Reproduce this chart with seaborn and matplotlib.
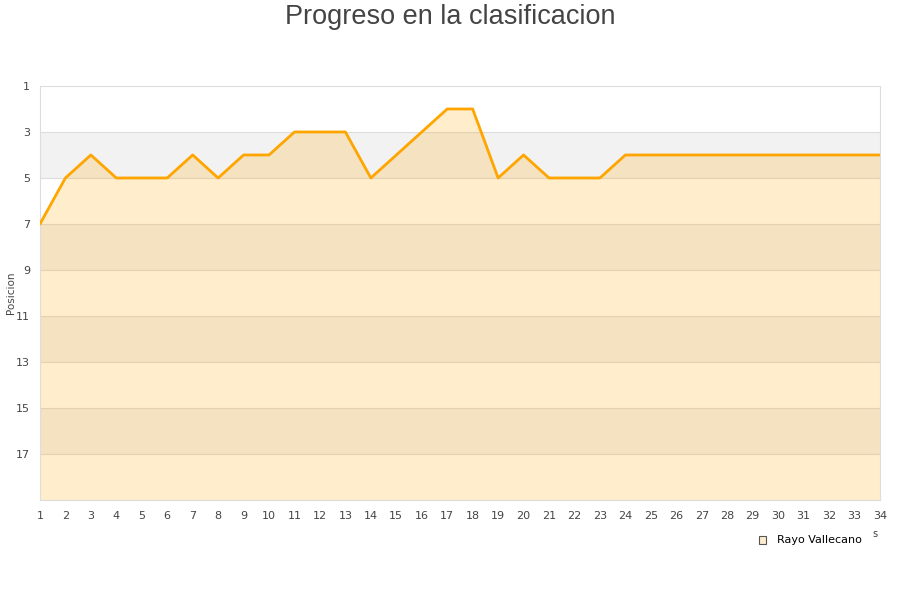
import pandas as pd
import matplotlib.pyplot as plt
import seaborn as sns

# Posicion del Rayo Vallecano por jornada
jornadas = list(range(1, 35))
posicion = [7, 5, 4, 5, 5, 5, 4, 5, 4, 4, 3, 3, 3, 5, 4, 3, 2, 2, 5, 4,
            5, 5, 5, 4, 4, 4, 4, 4, 4, 4, 4, 4, 4, 4]
equipo = 'Rayo Vallecano'
y_ticks = [1, 3, 5, 7, 9, 11, 13, 15, 17]

df = pd.DataFrame({'jornada': jornadas, 'posicion': posicion})

sns.set_style('white')
fig = plt.figure(figsize=(9, 6), dpi=100)
ax = fig.add_axes([0.0444, 0.1667, 0.9333, 0.69])

# bandas alternas grises
for lo in [3, 7, 11, 15]:
    ax.axhspan(lo, lo + 2, color='#f2f2f2', zorder=0, lw=0)
for t in y_ticks[1:]:
    ax.axhline(t, color='#dddddd', lw=0.8, zorder=1)

ax.fill_between(df['jornada'], df['posicion'], 19, color='orange', alpha=0.2, lw=0, zorder=2)
sns.lineplot(x='jornada', y='posicion', data=df, color='orange', lw=2, ax=ax, zorder=3)

ax.set_xlim(1, 34)
ax.set_ylim(19, 1)
ax.set_xticks(jornadas)
ax.set_yticks(y_ticks)
ax.tick_params(axis='x', length=0, labelsize=8, colors='#444444', pad=8)
ax.tick_params(axis='y', length=0, labelsize=8, colors='#444444', pad=7)
ax.set_xlabel('')
ax.set_ylabel('Posicion', fontsize=7.5, color='#444444')
ax.yaxis.set_label_coords(-0.029, 0.5)
for s in ax.spines.values():
    s.set_color('#dddddd')
    s.set_linewidth(0.8)

fig.text(0.5, 0.993, 'Progreso en la clasificacion', ha='center', va='top',
         fontsize=19.5, color='#444444', family='Liberation Sans')
fig.text(0.972, 0.11, 's', ha='center', va='center', fontsize=7, color='#444444')

# leyenda
fig.patches.append(plt.Rectangle((0.843, 0.094), 0.008, 0.012, transform=fig.transFigure,
                                 facecolor='#feedcc', edgecolor='#555555', lw=0.8))
fig.text(0.863, 0.1, equipo, ha='left', va='center', fontsize=8, color='black')

fig.savefig('out.png', dpi=100)
